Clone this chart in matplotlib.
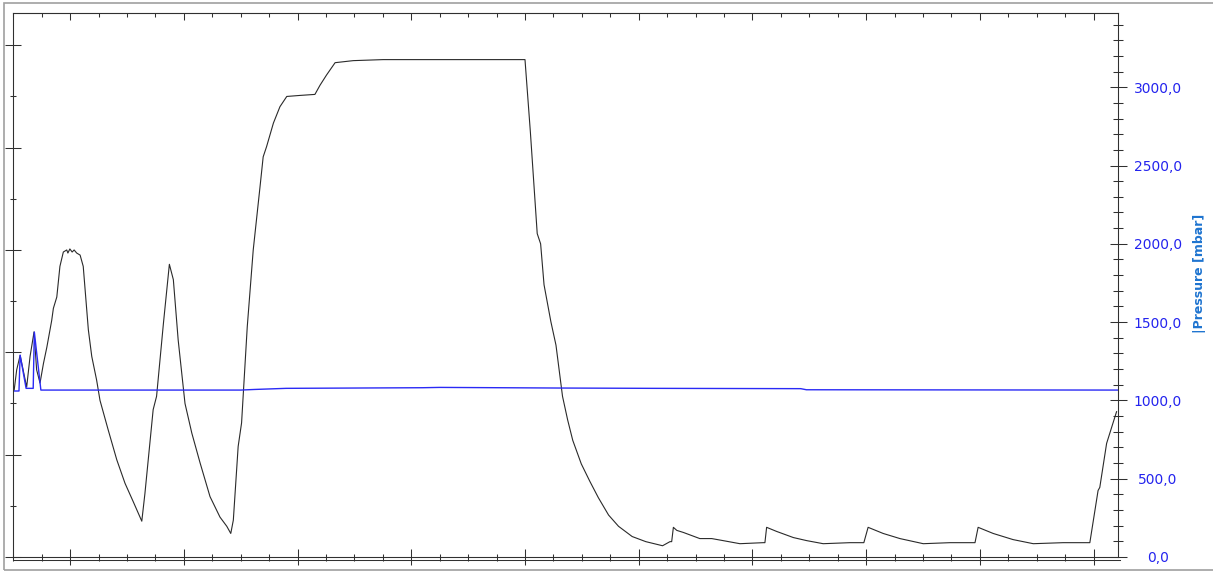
import matplotlib
matplotlib.use("Agg")
import matplotlib.pyplot as plt
from matplotlib.ticker import FixedLocator, FixedFormatter
from matplotlib.lines import Line2D
from matplotlib.patches import Rectangle

# ---------------- data ----------------
# black trace (left axis, unlabelled units); time in minor-tick units
trace_t = [0.03, 0.12, 0.24, 0.47, 0.59, 0.73, 0.82, 0.94, 1.06, 1.18, 1.35, 1.41,
           1.53, 1.64, 1.76, 1.88, 1.92, 1.99, 2.07, 2.14, 2.23, 2.35, 2.46, 2.64,
           2.76, 2.93, 3.05, 3.34, 3.64, 3.93, 4.22, 4.52, 4.63, 4.92, 5.04, 5.28,
           5.49, 5.63, 5.80, 6.04, 6.28, 6.57, 6.92, 7.27, 7.51, 7.65, 7.74, 7.91,
           8.03, 8.23, 8.44, 8.68, 8.79, 8.91, 9.15, 9.38, 9.62, 10.08, 10.61, 10.79,
           11.02, 11.32, 11.96, 13.01, 18.00, 18.19, 18.43, 18.55, 18.67, 18.91, 19.09,
           19.32, 19.50, 19.68, 19.98, 20.28, 20.58, 20.94, 21.29, 21.77, 22.25, 22.84,
           23.10, 23.16, 23.22, 23.34, 23.57, 24.15, 24.57, 24.97, 25.56, 26.38, 26.44,
           26.50, 26.85, 27.44, 27.91, 28.49, 29.43, 29.92, 30.07, 30.60, 31.19, 32.01,
           32.95, 33.83, 33.94, 34.47, 35.17, 35.88, 36.93, 37.87, 38.16, 38.22, 38.46,
           38.81]
trace_v = [1.63, 1.83, 1.97, 1.66, 1.96, 2.20, 1.83, 1.70, 1.89, 2.05, 2.31, 2.43,
           2.54, 2.84, 2.98, 3.00, 2.97, 3.01, 2.98, 3.00, 2.97, 2.95, 2.84, 2.22,
           1.96, 1.73, 1.53, 1.24, 0.95, 0.72, 0.54, 0.35, 0.62, 1.44, 1.57, 2.28,
           2.86, 2.71, 2.12, 1.50, 1.21, 0.92, 0.59, 0.39, 0.30, 0.23, 0.36, 1.08,
           1.31, 2.25, 3.00, 3.62, 3.91, 4.01, 4.24, 4.40, 4.50, 4.51, 4.52, 4.61,
           4.71, 4.83, 4.85, 4.86, 4.86, 4.15, 3.16, 3.06, 2.66, 2.30, 2.07,
           1.57, 1.34, 1.14, 0.91, 0.74, 0.58, 0.41, 0.30, 0.20, 0.15, 0.11,
           0.15, 0.15, 0.29, 0.26, 0.24, 0.18, 0.18, 0.16, 0.13, 0.14, 0.14,
           0.29, 0.25, 0.19, 0.16, 0.13, 0.14, 0.14, 0.29, 0.23, 0.18, 0.13,
           0.14, 0.14, 0.29, 0.23, 0.17, 0.13, 0.14, 0.14, 0.65, 0.68, 1.11,
           1.42]

# pressure trace (right axis, mbar)
pressure_t = [0.03, 0.20, 0.24, 0.45, 0.70, 0.74, 0.97, 8.0, 8.5, 9.6, 14.4, 15.0,
              19.2, 22.5, 27.7, 27.9, 38.85]
pressure_mbar = [1060, 1060, 1289, 1077, 1077, 1436, 1066, 1066, 1070, 1077, 1081,
                 1083, 1079, 1077, 1075, 1068, 1066]

pressure_ticks = [0, 500, 1000, 1500, 2000, 2500, 3000]
pressure_tick_labels = ["0,0", "500,0", "1000,0", "1500,0", "2000,0", "2500,0", "3000,0"]
pressure_label = "|Pressure [mbar]"

# ---------------- layout ----------------
W, H, DPI = 1213, 572, 100
PT = 0.72  # points per pixel at 100 dpi
L, R, T, B = 13.3, 1117.7, 13.3, 557.0

def fx(x):
    return x / W

def fy(y):
    return 1 - y / H

AX_COL = "#303030"
BLUE_LINE = "#2a2af5"
BLUE_TXT = "#2424ee"
BLUE_LBL = "#1e74d0"

fig = plt.figure(figsize=(W / DPI, H / DPI), dpi=DPI)
ax = fig.add_axes([fx(L), fy(B), (R - L) / W, (B - T) / H])
ax.set_xlim(0, 38.85)
ax.set_ylim(0, 5.3125)

ax.plot(trace_t, trace_v, color="#2a2a2a", lw=0.8, zorder=3)

for s in ax.spines.values():
    s.set_color(AX_COL)
    s.set_linewidth(0.75)

x_major = list(range(2, 39, 4))
x_minor = [i for i in range(0, 39) if (i - 2) % 4 != 0]
ax.xaxis.set_major_locator(FixedLocator(x_major))
ax.xaxis.set_minor_locator(FixedLocator(x_minor))
ax.tick_params(axis="x", which="major", direction="inout", length=16 * PT,
               width=0.75, color=AX_COL, labelbottom=False, top=False)
ax.tick_params(axis="x", which="minor", direction="inout", length=7 * PT,
               width=0.75, color=AX_COL, labelbottom=False, top=False)

ax.yaxis.set_major_locator(FixedLocator([0, 1, 2, 3, 4, 5]))
ax.yaxis.set_minor_locator(FixedLocator([0.5, 1.5, 2.5, 3.5, 4.5]))
ax.tick_params(axis="y", which="major", direction="inout", length=15.5 * PT,
               width=0.75, color=AX_COL, labelleft=False)
ax.tick_params(axis="y", which="minor", direction="inout", length=6 * PT,
               width=0.75, color=AX_COL, labelleft=False)

# top ticks
sec = ax.secondary_xaxis("top")
sec.xaxis.set_major_locator(FixedLocator(x_major))
sec.xaxis.set_minor_locator(FixedLocator(x_minor))
sec.tick_params(axis="x", which="major", direction="in", length=7 * PT, width=0.75,
                color=AX_COL, labeltop=False)
sec.tick_params(axis="x", which="minor", direction="in", length=3.5 * PT, width=0.75,
                color=AX_COL, labeltop=False)
sec.spines["top"].set_color(AX_COL)
sec.spines["top"].set_linewidth(0.75)

# right axis: pressure
ax2 = ax.twinx()
ax2.set_ylim(0, 3472)
ax2.plot(pressure_t, pressure_mbar, color=BLUE_LINE, lw=1.0, zorder=2)
for s in ax2.spines.values():
    s.set_color(AX_COL)
    s.set_linewidth(0.75)
ax2.yaxis.set_major_locator(FixedLocator(pressure_ticks))
ax2.yaxis.set_major_formatter(FixedFormatter(pressure_tick_labels))
ax2.yaxis.set_minor_locator(FixedLocator([v for v in range(100, 3500, 100) if v % 500 != 0]))
ax2.tick_params(axis="y", which="major", direction="inout", length=17 * PT, width=0.75,
                color=AX_COL, labelcolor=BLUE_TXT, labelsize=10, pad=22.7)
ax2.tick_params(axis="y", which="minor", direction="inout", length=9.4 * PT, width=0.75,
                color=AX_COL)
for lab in ax2.get_yticklabels():
    lab.set_horizontalalignment("center")
    lab.set_family("DejaVu Sans")

ax2.set_ylabel(pressure_label, color=BLUE_LBL, fontsize=9, fontweight="bold",
               family="DejaVu Sans", va="center", ha="center")
ax2.yaxis.set_label_coords((1199 - L) / (R - L), (B - 273) / (B - T))

# double bottom line
fig.add_artist(Line2D([fx(L), fx(1120)], [fy(560), fy(560)], transform=fig.transFigure,
                      color=AX_COL, lw=0.75))
# outer frame
fig.add_artist(Rectangle((fx(4), fy(570)), (1225 - 4) / W, (570 - 3) / H,
                         transform=fig.transFigure, fill=False,
                         edgecolor="#a0a0a0", lw=1.2))

fig.savefig("out.png", dpi=DPI)
